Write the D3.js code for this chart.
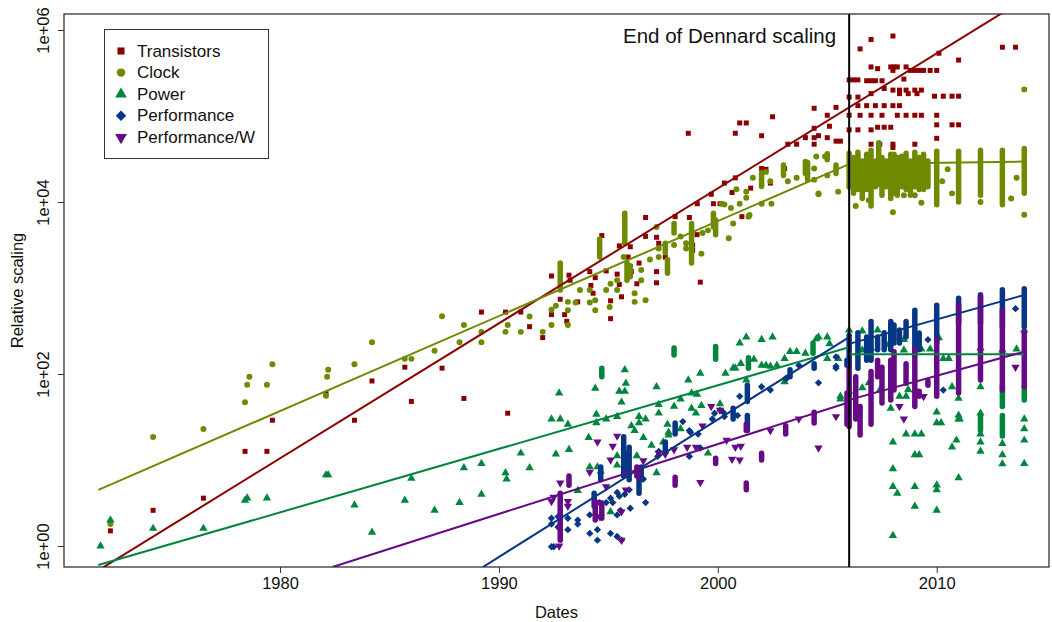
<!DOCTYPE html>
<html>
<head>
<meta charset="utf-8">
<script src="https://cdn.jsdelivr.net/npm/d3@7"></script>
<style>
  body { margin: 0; background: #fff; }
  svg { display: block; font-family: "Liberation Sans", Arial, Helvetica, sans-serif; }
</style>
</head>
<body>
<script>
const W = 1052, H = 622;
const M = {left: 64, right: 1049, top: 14, bottom: 567};

// ---- data: [year, relative value] ----
const transistorPts = [
  [1972.25, 1.5], [1974.2, 2.6], [1976.5, 3.6], [1978.4, 12.6], [1979.4, 12.6], [1979.65, 29], [1982.1, 59],
  [1983.4, 29], [1984.2, 83], [1985.7, 120], [1986.0, 48], [1987.4, 117], [1988.4, 52], [1989.2, 525],
  [1990.4, 35], [1990.3, 525], [1991.0, 525], [1991.4, 355], [1992.0, 265], [1992.4, 1380], [1992.4, 490],
  [1992.8, 740], [1993.0, 490], [1993.1, 410], [1993.2, 1410], [1993.25, 1230], [1993.6, 690], [1994.15, 1550],
  [1994.2, 1070], [1994.3, 870], [1994.4, 1320], [1994.7, 4070], [1994.9, 1580], [1995.1, 440], [1995.1, 710],
  [1995.4, 1450], [1995.5, 3090], [1995.5, 1100], [1995.6, 790], [1995.9, 2290], [1996.0, 1780], [1996.0, 3020],
  [1996.05, 1550], [1996.4, 1950], [1996.3, 1120], [1996.7, 3980], [1996.7, 6610], [1997.2, 1550], [1997.2, 1150],
  [1997.2, 3890], [1997.3, 3310], [1997.6, 2290], [1998.05, 6760], [1998.7, 6610], [1998.85, 3160], [1998.85, 2750],
  [1999.06, 9550], [1999.05, 4170], [1999.2, 1170], [1999.7, 12300], [1999.8, 9550], [2000.1, 9550], [2000.3, 16600],
  [2000.65, 12900], [2000.8, 19100], [2001.1, 6760], [2001.5, 14500], [2002.0, 24500], [2002.2, 24000], [2002.4, 16600],
  [2003.05, 24500], [1998.65, 63000], [2000.8, 63000], [2001.0, 83000], [2001.3, 83000], [2002.0, 59000], [2002.5, 98000],
  [2003.2, 47000], [2003.6, 47000], [2004.0, 56000], [2004.4, 56000], [2004.4, 47000], [2004.6, 59000], [2005.0, 56000],
  [2005.1, 76000], [2005.4, 51000], [2005.6, 51000], [2004.4, 123000], [2004.4, 72000], [2005.0, 102000], [2005.4, 126000],
  [2006.0, 263000], [2006.0, 166000], [2006.0, 102000], [2006.0, 69000], [2006.5, 603000], [2007.0, 776000], [2008.0, 851000],
  [2007.0, 372000], [2007.3, 355000], [2007.9, 372000], [2008.05, 372000], [2008.2, 372000], [2008.0, 339000], [2008.6, 372000],
  [2008.8, 339000], [2009.0, 339000], [2009.2, 339000], [2009.4, 339000], [2009.7, 339000], [2010.0, 339000], [2010.1, 537000],
  [2011.0, 447000], [2013.0, 631000], [2013.6, 631000], [2006.2, 263000], [2006.4, 263000], [2006.8, 257000], [2007.0, 257000],
  [2007.2, 257000], [2007.5, 257000], [2007.0, 182000], [2006.4, 166000], [2007.6, 209000], [2008.5, 269000], [2008.0, 200000],
  [2008.3, 200000], [2008.6, 200000], [2009.0, 200000], [2009.3, 200000], [2008.3, 182000], [2008.7, 182000], [2009.1, 182000],
  [2009.9, 170000], [2010.3, 170000], [2010.7, 170000], [2011.0, 170000], [2006.4, 132000], [2006.8, 132000], [2007.2, 132000],
  [2007.6, 132000], [2008.0, 132000], [2008.3, 132000], [2006.5, 102000], [2007.0, 102000], [2007.5, 102000], [2008.2, 102000],
  [2008.6, 102000], [2009.0, 102000], [2009.3, 102000], [2010.0, 102000], [2006.4, 69000], [2007.0, 69000], [2007.3, 74000],
  [2007.6, 74000], [2007.9, 74000], [2010.0, 79000], [2010.7, 79000], [2011.0, 79000], [2007.0, 47000], [2007.4, 47000],
  [2008.0, 47000], [2008.0, 43000], [2009.0, 47000], [2010.0, 55000]
];

const clockPts = [
  [1972.25, 1.8], [1974.2, 18.5], [1976.5, 23], [1978.4, 47], [1978.5, 75], [1978.6, 93], [1979.4, 75], [1979.65, 130],
  [1982.1, 56], [1982.15, 93], [1982.2, 112], [1983.4, 130], [1984.2, 234], [1985.7, 150], [1986.0, 150], [1987.06, 186],
  [1987.4, 470], [1988.2, 234], [1988.4, 372], [1989.2, 309], [1989.2, 234], [1990.4, 372], [1990.3, 309], [1991.0, 309],
  [1991.4, 466], [1992.0, 309], [1992.4, 560], [1992.4, 372], [1992.6, 620], [1993.15, 690], [1993.15, 550], [1993.15, 372],
  [1993.5, 680], [1993.7, 950], [1994.15, 950], [1994.15, 680], [1994.4, 720], [1994.4, 550], [1994.9, 950], [1995.06, 600],
  [1995.1, 1120], [1995.4, 1230], [1995.4, 950], [1995.7, 2290], [1996.2, 870], [1996.2, 690], [1996.5, 1620], [1996.5, 1230],
  [1996.7, 720], [1996.9, 2140], [1997.2, 5130], [1997.3, 2880], [1997.3, 2290], [1998.0, 3160], [1998.3, 3980], [1998.55, 3310],
  [1998.55, 2880], [1999.25, 2510], [1999.3, 4370], [1999.55, 4680], [2000.17, 9550], [2000.3, 9330], [2000.5, 3800],
  [2000.6, 8510], [2000.7, 5620], [2000.85, 14100], [2001.0, 9550], [2001.3, 11200], [2001.3, 13200], [2001.4, 6760],
  [2001.45, 7080], [2001.6, 19100], [2002.0, 9550], [2002.2, 22400], [2002.4, 17400], [2002.45, 9550], [2003.2, 17400],
  [2003.6, 19100], [2004.4, 18200], [2004.4, 24500], [2004.6, 12300], [2004.9, 33900], [2005.0, 20400], [2005.5, 13200],
  [2004.5, 33900], [2004.6, 12600],
  [2008.0, 7600], [2008.0, 12600], [2008.5, 12000], [2009.0, 12000], [2010.25, 17400], [2010.7, 12600], [2012.0, 10000],
  [2013.65, 19100], [2014.0, 204000], [2014.0, 7100], [2006.3, 9000], [2006.9, 10500], [2009.3, 9800], [2010.5, 24000],
  [2013.4, 11000]
];
// dense vertical runs of points: [year, low, high]
const clockRuns = [
  [1992.8, 950, 1950], [1994.6, 2290, 3720], [1995.75, 3310, 7410], [1995.85, 1230, 1950], [1996.0, 1350, 1820],
  [1997.6, 2570, 3310], [1997.7, 1480, 2140], [1998.0, 4370, 5620], [1998.8, 1950, 5620], [1999.8, 5130, 7410],
  [1999.9, 4170, 6170], [2002.0, 15100, 21900], [2003.0, 20400, 26900], [2004.0, 21400, 29500], [2005.0, 31000, 36300],
  [2005.4, 21400, 26900], [2004.1, 18200, 28800],
  [2006.0, 14800, 37000], [2006.2, 12600, 33000], [2006.4, 14000, 38000], [2006.6, 11000, 30000], [2006.8, 14000, 36000],
  [2007.0, 9000, 40000], [2007.2, 15000, 30000], [2007.35, 16000, 49000], [2007.5, 12000, 33000], [2007.7, 15000, 30000],
  [2007.9, 11000, 36000], [2008.05, 14000, 36000], [2008.2, 12000, 33000], [2008.4, 15000, 34000], [2008.6, 14000, 37000],
  [2008.8, 12000, 30000], [2009.0, 15000, 38000], [2009.2, 14000, 33000], [2009.4, 14000, 36000], [2009.6, 15000, 30000],
  [2010.0, 9300, 39000], [2011.0, 10000, 39000], [2012.0, 12000, 40000], [2013.0, 9300, 40000], [2014.0, 12600, 42000]
];

const powerPts = [
  [1971.8, 1.0], [1972.25, 2.0], [1974.2, 1.6], [1976.5, 1.6], [1978.4, 3.4], [1978.5, 3.6], [1979.4, 3.6], [1982.1, 6.7],
  [1982.2, 6.7], [1983.4, 3.0], [1984.2, 1.44], [1985.7, 3.4], [1986.0, 6.1], [1987.06, 2.6], [1988.2, 3.2], [1988.4, 8.1],
  [1989.2, 9.1], [1989.2, 4.0], [1990.3, 7.1], [1990.35, 6.0], [1991.0, 12], [1991.4, 8.1], [1992.4, 30], [1992.6, 11.7],
  [1992.75, 60], [1992.8, 30], [1993.15, 26], [1993.2, 13.2], [1993.6, 4.4], [1994.1, 18.2], [1994.15, 8.3], [1994.4, 68],
  [1994.45, 34], [1994.45, 27], [1994.5, 8.3], [1994.65, 7.4], [1994.9, 30], [1995.1, 2.5], [1995.4, 32], [1995.4, 11.2],
  [1995.4, 8.7], [1995.5, 63], [1995.75, 63], [1995.6, 47], [1995.75, 112], [1995.8, 78], [1996.05, 25], [1996.2, 22],
  [1996.3, 11.2], [1996.4, 32], [1996.4, 27], [1996.6, 18.2], [1996.7, 30], [1996.97, 14.8], [1997.2, 71], [1997.2, 7.1],
  [1997.3, 44], [1997.3, 35], [1997.5, 16.2], [1997.7, 26], [1997.75, 21], [1997.75, 19.5], [1998.0, 42], [1998.3, 23],
  [1998.3, 51], [1998.65, 85], [1998.8, 60], [1998.8, 40], [1999.0, 35], [1999.05, 58], [1999.2, 102], [1999.25, 43],
  [1999.55, 12], [2000.1, 45], [2000.35, 102], [2000.7, 117], [2000.8, 117], [2001.0, 229], [2001.05, 132], [2001.3, 85],
  [2001.3, 269], [2001.65, 148], [2002.0, 251], [2002.0, 126], [2002.2, 126], [2002.5, 269], [2002.4, 123], [2002.7, 126],
  [2003.05, 151], [2003.05, 81], [2003.3, 182], [2003.6, 182], [2004.0, 174], [2004.5, 257], [2004.6, 269], [2005.0, 269],
  [2005.0, 151], [2005.1, 224], [2005.6, 51], [2005.5, 151],
  [2006.0, 324], [2006.6, 316], [2007.3, 324], [2008.0, 269], [2008.5, 251], [2009.3, 195], [2009.7, 195], [2010.1, 263],
  [2010.3, 151], [2010.55, 151], [2010.7, 71], [2011.0, 52], [2011.0, 33], [2011.0, 30], [2011.05, 30], [2010.9, 17],
  [2010.7, 14.1], [2011.0, 6.2], [2012.0, 71], [2012.0, 35], [2012.0, 20], [2012.0, 16.2], [2012.0, 12.6], [2013.0, 9],
  [2013.0, 11.5], [2013.0, 15.5], [2014.0, 324], [2014.0, 30], [2014.0, 23], [2014.0, 17], [2014.0, 9.1], [2013.65, 195],
  [2008.0, 16.2], [2008.0, 7.9], [2008.0, 4.9], [2008.2, 4.1], [2008.0, 1.32], [2008.6, 20], [2009.0, 20], [2009.3, 20],
  [2009.0, 11.5], [2009.2, 11.5], [2009.0, 4.9], [2009.0, 2.9], [2010.0, 36], [2010.0, 27], [2010.2, 27], [2010.0, 5.1],
  [2010.0, 4.5], [2010.0, 2.6], [2007.9, 40], [2008.3, 55], [2008.6, 55], [2006.0, 63], [2005.6, 55], [2006.6, 69],
  [2006.9, 79], [2007.4, 65], [2008.7, 66], [2009.0, 65], [2006.6, 190], [2007.0, 200], [2007.8, 220], [2008.5, 190],
  [2009.2, 200], [2012.0, 200], [2013.0, 190]
];
const powerRuns = [
  [1994.7, 93, 117], [1998.0, 166, 200], [1999.9, 148, 209], [2004.35, 174, 229], [2001.4, 117, 155],
  [2013.0, 42, 74], [2013.0, 19, 33], [2014.0, 50, 71], [2012.0, 22, 32]
];

const perfPts = [
  [1992.4, 0.98], [1992.5, 0.98], [1992.4, 2.1], [1992.4, 1.8], [1992.7, 2.2], [1992.7, 1.66], [1993.15, 2.1], [1993.15, 1.55],
  [1993.6, 2.0], [1993.6, 1.8], [1994.15, 2.3], [1994.15, 1.4], [1994.5, 1.55], [1994.5, 1.17], [1994.6, 3.2], [1994.9, 3.2],
  [1995.1, 1.4], [1995.1, 3.6], [1995.2, 3.2], [1995.4, 4.2], [1995.4, 2.3], [1995.4, 1.29], [1995.5, 3.8], [1995.55, 2.6],
  [1995.6, 1.17], [1995.75, 4.0], [1995.95, 4.5], [1996.0, 2.75], [1996.6, 6.0], [1996.7, 3.2], [1997.25, 11], [1997.3, 12.6],
  [1998.4, 28], [1998.7, 22], [1998.7, 11], [1998.75, 21], [1999.1, 20], [1999.2, 13.8], [1999.75, 30], [1999.85, 35],
  [2000.1, 38], [2000.25, 36], [2000.3, 32], [2000.9, 33], [2001.0, 55], [2002.0, 71], [2002.4, 65], [2003.1, 89],
  [2003.15, 89], [2003.7, 126], [2004.6, 79], [2005.4, 123], [2005.4, 158], [2005.4, 117],
  [2009.6, 251], [2010.3, 65], [2013.6, 575]
];
const perfRuns = [
  [1994.35, 2.9, 4.1], [1994.65, 5.9, 8.3], [1995.7, 6.5, 18.6], [1995.8, 7.1, 12], [1995.95, 5.9, 14.1], [1996.4, 4.1, 7.1],
  [1996.5, 5.9, 8.3], [1997.6, 12.6, 16.2], [1998.05, 20, 27], [2000.7, 30, 40], [2001.35, 48, 74], [2001.35, 22, 33],
  [2003.3, 93, 112], [2004.4, 117, 132], [2005.9, 126, 145],
  [2006.0, 126, 282], [2006.4, 117, 302], [2006.8, 145, 269], [2007.0, 145, 407], [2007.3, 191, 269], [2007.6, 191, 302],
  [2007.9, 191, 407], [2008.05, 229, 372], [2008.3, 229, 324], [2008.6, 269, 407], [2009.0, 174, 550], [2009.2, 191, 300],
  [2010.0, 229, 631], [2011.0, 389, 759], [2012.0, 389, 832], [2013.0, 355, 955], [2014.0, 355, 977]
];

const perfWPts = [
  [1992.4, 3.3], [1992.5, 3.7], [1992.75, 1.0], [1992.8, 5.4], [1993.15, 3.3], [1993.15, 2.9], [1994.15, 7.2], [1994.5, 16.2],
  [1994.6, 3.2], [1994.6, 2.2], [1994.9, 4.9], [1995.1, 10], [1995.2, 14.5], [1995.4, 19], [1995.6, 2.5], [1995.6, 1.17],
  [1995.8, 4.5], [1996.4, 6.5], [1996.6, 9.8], [1997.3, 12], [1997.6, 11.7], [1998.0, 13.2], [1998.6, 14.1], [1999.0, 14.1],
  [1999.2, 5.5], [1999.3, 25], [1999.7, 42], [2000.1, 38], [2000.4, 17], [2000.65, 10.2], [2000.8, 14.1], [2001.05, 14.5],
  [2001.0, 10], [2002.4, 22], [2003.7, 30], [2004.6, 13.8], [2005.4, 32],
  [2008.3, 42], [2008.5, 30], [2013.6, 120], [2009.4, 55]
];
const perfWRuns = [
  [1992.8, 1.17, 4.1], [1993.2, 5.1, 6.5], [1994.4, 2.0, 3.3], [1994.7, 2.1, 3.1], [1996.3, 6.5, 8.3], [1998.05, 5.1, 6.3],
  [1999.9, 9.1, 10.5], [2001.3, 22, 26], [2001.3, 4.5, 5.4], [2002.0, 10, 12], [2003.1, 20, 25], [2004.4, 27, 36],
  [2005.9, 26, 60],
  [2006.0, 24.5, 120], [2006.3, 30, 93], [2006.5, 19.5, 42], [2007.0, 26, 107], [2007.3, 93, 145], [2007.5, 46, 120],
  [2007.9, 50, 145], [2008.05, 65, 182], [2008.6, 78, 132], [2009.0, 42, 191], [2009.2, 55, 63], [2009.6, 74, 83],
  [2010.0, 55, 251], [2011.0, 60, 631], [2012.0, 85, 794], [2013.0, 65, 550], [2014.0, 71, 309]
];

// fitted trend segments: [[year, value], [year, value]]
const trendTransistors = [[[1971.8, 0.54], [2014.0, 2.27e6]]];
const trendClock = [[[1971.7, 4.5], [2006.0, 27600]], [[2006.0, 27600], [2014.0, 29500]]];
const trendPower = [[[1971.7, 0.6], [2006.0, 205]], [[2006.0, 170], [2014.0, 170]]];
const trendPerf = [[[1989.27, 0.57], [2006.0, 269]], [[2006.0, 224], [2014.0, 830]]];
const trendPerfW = [[[1982.4, 0.57], [2006.0, 47]], [[2006.0, 50], [2014.0, 182]]];

const xTicks = [1980, 1990, 2000, 2010];
const yTicks = [1, 100, 1e4, 1e6];
const yTickLabels = ['1e+00', '1e+02', '1e+04', '1e+06'];
const dennardYear = 2006.0;

const series = [
  {name: 'Transistors', color: '#8b0000', shape: 'square', pts: transistorPts, runs: [], trend: trendTransistors},
  {name: 'Clock', color: '#6e8b00', shape: 'circle', pts: clockPts, runs: clockRuns, trend: trendClock},
  {name: 'Power', color: '#00853f', shape: 'triangle', pts: powerPts, runs: powerRuns, trend: trendPower},
  {name: 'Performance', color: '#063684', shape: 'diamond', pts: perfPts, runs: perfRuns, trend: trendPerf},
  {name: 'Performance/W', color: '#660a86', shape: 'down', pts: perfWPts, runs: perfWRuns, trend: trendPerfW}
];

// ---- scales ----
const x = d3.scaleLinear().domain([1970.13, 2015.13]).range([M.left, M.right]);
const y = d3.scaleLog().domain([0.57, 1.535e6]).range([M.bottom, M.top]);

const svg = d3.select('body').append('svg').attr('width', W).attr('height', H);

svg.append('clipPath').attr('id', 'plot-clip')
  .append('rect')
  .attr('x', M.left).attr('y', M.top)
  .attr('width', M.right - M.left).attr('height', M.bottom - M.top);

// diamond = square turned 45 degrees (R's pch 18 is wide, not tall)
const shapes = {
  square: {type: d3.symbolSquare, size: 25, rot: 0},
  circle: {type: d3.symbolCircle, size: 28, rot: 0},
  triangle: {type: d3.symbolTriangle, size: 30, rot: 0},
  diamond: {type: d3.symbolSquare, size: 27, rot: 45},
  down: {type: d3.symbolTriangle, size: 30, rot: 180}
};

const plot = svg.append('g').attr('clip-path', 'url(#plot-clip)');

// points and dense runs
series.forEach(s => {
  const g = plot.append('g');
  const sh = shapes[s.shape];
  g.selectAll('line.run')
    .data(s.runs)
    .enter()
    .append('line')
    .attr('class', 'run')
    .attr('x1', d => x(d[0])).attr('x2', d => x(d[0]))
    .attr('y1', d => y(d[1])).attr('y2', d => y(d[2]))
    .attr('stroke', s.color)
    .attr('stroke-width', 5.5)
    .attr('stroke-linecap', 'round');
  g.selectAll('path.pt')
    .data(s.pts)
    .enter()
    .append('path')
    .attr('class', 'pt')
    .attr('d', d3.symbol().type(sh.type).size(sh.size))
    .attr('transform', d => `translate(${x(d[0])},${y(d[1])}) rotate(${sh.rot})`)
    .attr('fill', s.color);
});

// trend lines
const line = d3.line().x(d => x(d[0])).y(d => y(d[1]));
series.forEach(s => {
  plot.selectAll(null)
    .data(s.trend)
    .enter()
    .append('path')
    .attr('d', line)
    .attr('fill', 'none')
    .attr('stroke', s.color)
    .attr('stroke-width', 2);
});

// end of Dennard scaling
svg.append('line')
  .attr('x1', x(dennardYear)).attr('x2', x(dennardYear))
  .attr('y1', M.top).attr('y2', M.bottom)
  .attr('stroke', '#000').attr('stroke-width', 2);

svg.append('text')
  .attr('x', x(dennardYear) - 13).attr('y', 35)
  .attr('text-anchor', 'end').attr('dominant-baseline', 'central')
  .style('font-size', '20.5px').attr('fill', '#111')
  .text('End of Dennard scaling');

// frame
svg.append('rect')
  .attr('x', M.left).attr('y', M.top)
  .attr('width', M.right - M.left).attr('height', M.bottom - M.top)
  .attr('fill', 'none').attr('stroke', '#222').attr('stroke-width', 1.2);

// x axis
const xAxis = svg.append('g')
  .attr('transform', `translate(0,${M.bottom})`)
  .call(d3.axisBottom(x).tickValues(xTicks).tickFormat(d3.format('d')).tickSize(6).tickPadding(4));
xAxis.select('.domain').remove();
xAxis.selectAll('.tick line').attr('stroke', '#333');
xAxis.selectAll('.tick text').style('font-size', '16.5px').attr('fill', '#111')
  .style('font-family', '"Liberation Sans", Arial, sans-serif');

// y axis
const yAxis = svg.append('g')
  .attr('transform', `translate(${M.left},0)`)
  .call(d3.axisLeft(y).tickValues(yTicks).tickFormat((d, i) => yTickLabels[i]).tickSize(6));
yAxis.select('.domain').remove();
yAxis.selectAll('.tick line').attr('stroke', '#333');
yAxis.selectAll('.tick text')
  .attr('transform', 'rotate(-90)')
  .attr('x', 0).attr('y', -21)
  .attr('dy', '0.35em')
  .attr('text-anchor', 'middle')
  .style('font-size', '16.5px').attr('fill', '#111')
  .style('font-family', '"Liberation Sans", Arial, sans-serif');

// axis titles
svg.append('text')
  .attr('x', (M.left + M.right) / 2).attr('y', 612)
  .attr('text-anchor', 'middle').attr('dominant-baseline', 'central')
  .style('font-size', '16.5px').attr('fill', '#111')
  .text('Dates');

svg.append('text')
  .attr('transform', `translate(17,${(M.top + M.bottom) / 2}) rotate(-90)`)
  .attr('text-anchor', 'middle').attr('dominant-baseline', 'central')
  .style('font-size', '16.5px').attr('fill', '#111')
  .text('Relative scaling');

// legend
const legend = svg.append('g');
legend.append('rect')
  .attr('x', 104.5).attr('y', 29.5).attr('width', 164).attr('height', 129)
  .attr('fill', '#fff').attr('stroke', '#333').attr('stroke-width', 1);

const legendItem = legend.selectAll('g.item')
  .data(series)
  .enter()
  .append('g')
  .attr('class', 'item')
  .attr('transform', (d, i) => `translate(121,${51 + i * 21.6})`);

legendItem.append('path')
  .attr('d', d => d3.symbol().type(shapes[d.shape].type).size(shapes[d.shape].size * 2)())
  .attr('transform', d => `rotate(${shapes[d.shape].rot})`)
  .attr('fill', d => d.color);

legendItem.append('text')
  .attr('x', 16).attr('y', 0)
  .attr('dominant-baseline', 'central')
  .style('font-size', '17px').attr('fill', '#111')
  .text(d => d.name);
</script>
</body>
</html>
